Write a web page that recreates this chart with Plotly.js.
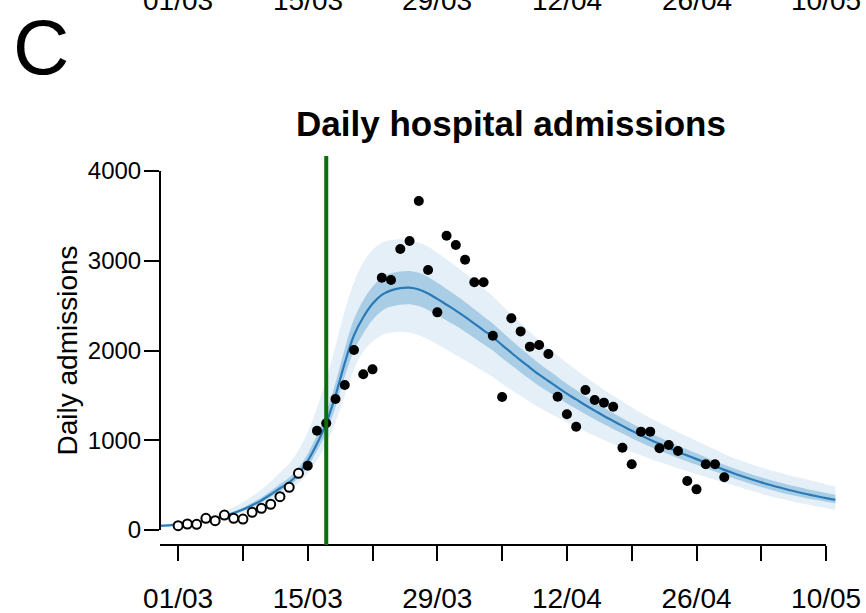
<!DOCTYPE html>
<html>
<head>
<meta charset="utf-8">
<script src="https://cdn.plot.ly/plotly-3.0.1.min.js"></script>
<style>html,body{margin:0;padding:0;background:#fff;}#chart{width:866px;height:613px;}</style>
</head>
<body>
<div id="chart"></div>
<script>
// ---- data ----
// observed daily admissions, 01/03 .. 29/04
var obsStart = '2020-03-01';
var obsValues = [48, 67, 63, 130, 104, 167, 130, 122, 197, 242, 287, 371, 476, 632,
  717, 1106, 1189, 1460, 1616, 2006, 1735, 1790, 2811, 2786, 3131, 3220, 3666, 2897, 2425, 3279,
  3175, 3012, 2760, 2760, 2165, 1482, 2360, 2213, 2043, 2061, 1961, 1485, 1289, 1151, 1560,
  1448, 1419, 1374, 917, 732, 1096, 1096, 910, 947, 880, 546, 453, 732, 732, 587];
var nOpen = 14; // first 14 points drawn as open circles

// model fit, 28/02 .. 11/05
var fitStart = '2020-02-28';
var fitMedian = [45, 52, 60, 72, 88, 106, 128, 155, 188, 228, 276, 330, 395, 465, 530, 630, 770, 960,
  1190, 1500, 1860, 2170, 2370, 2520, 2620, 2670, 2695, 2700, 2680, 2635, 2575, 2510, 2445, 2375,
  2300, 2225, 2150, 2060, 1975, 1890, 1810, 1730, 1660, 1590, 1520, 1455, 1390, 1330, 1270, 1215,
  1160, 1105, 1055, 1005, 960, 915, 870, 830, 790, 750, 710, 670, 632, 597, 563, 531, 501, 473,
  446, 421, 398, 376, 355, 336];
var fitUpper95 = [61, 70, 81, 97, 119, 143, 173, 210, 255, 310, 375, 450, 540, 640, 740, 890, 1090, 1360,
  1680, 2050, 2440, 2760, 2980, 3120, 3200, 3230, 3240, 3230, 3200, 3160, 3090, 3015, 2940, 2860,
  2775, 2690, 2605, 2500, 2400, 2300, 2205, 2110, 2030, 1945, 1860, 1785, 1705, 1635, 1562, 1497,
  1431, 1366, 1307, 1248, 1195, 1141, 1088, 1041, 993, 945, 897, 848, 802, 765, 729, 696, 666, 639,
  611, 585, 561, 538, 508, 487];
var fitLower95 = [38, 44, 51, 61, 75, 90, 109, 132, 160, 194, 235, 280, 335, 390, 445, 520, 630, 775,
  960, 1200, 1500, 1790, 1990, 2100, 2170, 2200, 2210, 2200, 2170, 2125, 2070, 2010, 1950, 1890,
  1830, 1765, 1705, 1630, 1560, 1495, 1430, 1365, 1310, 1255, 1200, 1150, 1098, 1050, 1003, 960,
  916, 873, 833, 794, 758, 723, 687, 656, 624, 592, 561, 529, 498, 465, 434, 404, 376, 350,
  326, 303, 283, 262, 243, 225];
var fitUpper50 = [50, 57, 66, 79, 97, 117, 141, 171, 207, 251, 304, 363, 435, 512, 585, 695, 850, 1060,
  1310, 1640, 2020, 2350, 2560, 2710, 2810, 2860, 2880, 2885, 2865, 2820, 2755, 2685, 2615, 2540,
  2460, 2380, 2300, 2205, 2115, 2025, 1940, 1855, 1780, 1705, 1630, 1560, 1490, 1427, 1363, 1305,
  1246, 1188, 1135, 1082, 1034, 986, 938, 896, 854, 812, 770, 728, 688, 653, 619, 587, 557, 529,
  502, 478, 455, 434, 412, 393];
var fitLower50 = [42, 48, 56, 67, 82, 99, 119, 144, 175, 212, 257, 307, 367, 430, 490, 580, 705, 880,
  1085, 1370, 1710, 2000, 2190, 2340, 2440, 2490, 2510, 2515, 2495, 2450, 2395, 2335, 2275, 2210,
  2140, 2070, 2000, 1915, 1835, 1755, 1680, 1605, 1540, 1475, 1410, 1350, 1290, 1233, 1177, 1125,
  1074, 1022, 975, 928, 886, 844, 802, 764, 727, 689, 652, 614, 578, 543, 509, 478, 448, 421,
  396, 372, 352, 333, 315, 299];

var interventionDate = '2020-03-17';
var tickDates = ['2020-03-01','2020-03-08','2020-03-15','2020-03-22','2020-03-29','2020-04-05',
  '2020-04-12','2020-04-19','2020-04-26','2020-05-03','2020-05-10'];
var tickLabels = ['01/03','','15/03','','29/03','','12/04','','26/04','','10/05'];
var yTicks = [0, 1000, 2000, 3000, 4000];
var titleText = 'Daily hospital admissions';
var yTitle = 'Daily admissions';
var panelLabel = 'C';

// ---- build date sequences ----
function dateSeq(start, n) {
  var out = [];
  var d0 = new Date(start + 'T00:00:00Z');
  for (var i = 0; i < n; i++) {
    var d = new Date(d0.getTime() + i * 86400000);
    out.push(d.toISOString().slice(0, 10));
  }
  return out;
}
var obsDates = dateSeq(obsStart, obsValues.length);
var fitDates = dateSeq(fitStart, fitMedian.length);

var FONT = 'Liberation Sans, Arial, sans-serif';
var lightBand = '#e4eff8';
var darkBand = '#aacde6';
var lineCol = '#2a7ab8';

var traces = [
  {x: fitDates, y: fitLower95, type: 'scatter', mode: 'lines', line: {width: 0, shape: 'spline'}, hoverinfo: 'skip', showlegend: false},
  {x: fitDates, y: fitUpper95, type: 'scatter', mode: 'lines', line: {width: 0, shape: 'spline'}, fill: 'tonexty', fillcolor: lightBand, hoverinfo: 'skip', showlegend: false},
  {x: fitDates, y: fitLower50, type: 'scatter', mode: 'lines', line: {width: 0, shape: 'spline'}, hoverinfo: 'skip', showlegend: false},
  {x: fitDates, y: fitUpper50, type: 'scatter', mode: 'lines', line: {width: 0, shape: 'spline'}, fill: 'tonexty', fillcolor: darkBand, hoverinfo: 'skip', showlegend: false},
  {x: fitDates, y: fitMedian, type: 'scatter', mode: 'lines', line: {width: 2.2, color: lineCol, shape: 'spline'}, showlegend: false},
  {x: obsDates.slice(0, nOpen), y: obsValues.slice(0, nOpen), type: 'scatter', mode: 'markers',
   marker: {size: 9, color: '#ffffff', line: {color: '#000000', width: 2}}, showlegend: false},
  {x: obsDates.slice(nOpen), y: obsValues.slice(nOpen), type: 'scatter', mode: 'markers',
   marker: {size: 10, color: '#000000'}, showlegend: false}
];

var plotLeft = 160, plotRight = 845, plotTop = 156, plotBottom = 545;
var pw = plotRight - plotLeft, ph = plotBottom - plotTop;
function px2paperX(px) { return (px - plotLeft) / pw; }
function px2paperY(py) { return (plotBottom - py) / ph; }

var annotations = [
  {text: panelLabel, xref: 'paper', yref: 'paper', x: px2paperX(11), y: px2paperY(47), xanchor: 'left', yanchor: 'middle',
   showarrow: false, font: {family: FONT, size: 78, color: '#000'}}
];
// partially visible tick labels of the panel above
tickLabels.forEach(function (t, i) {
  if (!t) return;
  annotations.push({text: t, xref: 'x', yref: 'paper', x: tickDates[i], y: px2paperY(0), xanchor: 'center', yanchor: 'middle',
    showarrow: false, font: {family: FONT, size: 28, color: '#000'}});
});

var layout = {
  width: 866, height: 613,
  margin: {l: plotLeft, r: 866 - plotRight, t: plotTop, b: 613 - plotBottom, pad: 0},
  paper_bgcolor: '#fff', plot_bgcolor: '#fff',
  showlegend: false,
  title: {text: '<b>' + titleText + '</b>', x: px2paperX(511), xref: 'paper', xanchor: 'center',
          y: 1 - 124 / 613, yref: 'container', yanchor: 'middle',
          font: {family: FONT, size: 35, color: '#000'}},
  xaxis: {
    type: 'date', range: ['2020-02-28 01:00', '2020-05-12 01:00'],
    tickmode: 'array', tickvals: tickDates, ticktext: tickLabels,
    ticks: 'outside', ticklen: 15, tickwidth: 2, tickcolor: '#000',
    showgrid: false, zeroline: false, showline: false,
    ticklabelstandoff: 13,
    tickfont: {family: FONT, size: 28, color: '#000'}
  },
  yaxis: {
    range: [-167, 4167],
    tickmode: 'array', tickvals: yTicks, ticktext: yTicks.map(String),
    ticks: 'outside', ticklen: 15, tickwidth: 2, tickcolor: '#000',
    showgrid: false, zeroline: false, showline: false,
    ticklabelstandoff: -2,
    tickfont: {family: FONT, size: 24, color: '#000'},
    title: {text: yTitle, standoff: 2, font: {family: FONT, size: 28, color: '#000'}}
  },
  shapes: [
    // y axis line spanning 0..4000
    {type: 'line', xref: 'paper', yref: 'y', x0: 0, x1: 0, y0: yTicks[0], y1: yTicks[yTicks.length - 1], line: {color: '#000', width: 2}},
    // x axis line
    {type: 'line', xref: 'paper', yref: 'paper', x0: 0, x1: px2paperX(826), y0: 0, y1: 0, line: {color: '#000', width: 2}},
    // intervention line
    {type: 'line', xref: 'x', yref: 'paper', x0: interventionDate, x1: interventionDate, y0: 0, y1: 1, line: {color: '#0a6e0a', width: 4}}
  ],
  annotations: annotations
};

Plotly.newPlot('chart', traces, layout, {staticPlot: true, displayModeBar: false});
</script>
</body>
</html>
